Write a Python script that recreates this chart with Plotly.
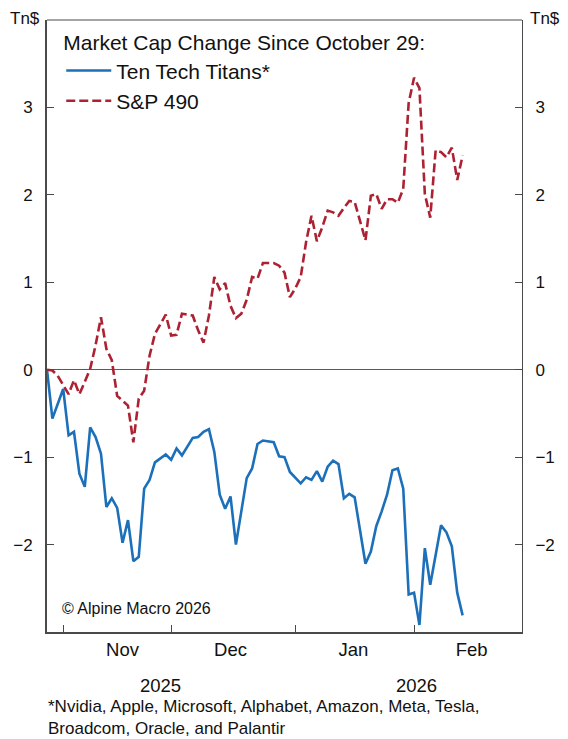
import pandas as pd
import plotly.graph_objects as go

# Weekday dates from Oct 29, 2025 (78 observations, through Feb 13, 2026)
start_date = "2025-10-29"
n_points = 78
dates = pd.bdate_range(start=start_date, periods=n_points)

tech_titans = [
    0.00, -0.56, -0.39, -0.22, -0.75, -0.71, -1.19, -1.34, -0.66, -0.77,
    -0.96, -1.57, -1.47, -1.58, -1.98, -1.72, -2.19, -2.14, -1.36, -1.26,
    -1.06, -1.02, -0.97, -1.03, -0.90, -0.98, -0.88, -0.78, -0.77, -0.71,
    -0.68, -0.94, -1.43, -1.59, -1.45, -2.00, -1.62, -1.24, -1.13, -0.85,
    -0.81, -0.82, -0.83, -0.99, -1.00, -1.17, -1.24, -1.30, -1.23, -1.26,
    -1.16, -1.28, -1.11, -1.04, -1.08, -1.47, -1.42, -1.46, -1.84, -2.22,
    -2.08, -1.79, -1.62, -1.43, -1.15, -1.13, -1.36, -2.57, -2.55, -2.92,
    -2.04, -2.46, -2.12, -1.78, -1.86, -2.02, -2.55, -2.81,
]

sp490 = [
    0.00, -0.01, -0.07, -0.17, -0.28, -0.12, -0.28, -0.14, 0.01, 0.28,
    0.60, 0.24, 0.11, -0.30, -0.36, -0.41, -0.83, -0.33, -0.24, 0.16,
    0.41, 0.52, 0.63, 0.39, 0.40, 0.64, 0.63, 0.62, 0.45, 0.31,
    0.62, 1.06, 0.92, 0.99, 0.73, 0.59, 0.64, 0.80, 1.06, 1.04,
    1.22, 1.22, 1.22, 1.19, 1.11, 0.83, 0.93, 1.06, 1.46, 1.76,
    1.47, 1.63, 1.82, 1.80, 1.76, 1.85, 1.93, 1.92, 1.70, 1.48,
    1.99, 2.01, 1.84, 1.95, 1.95, 1.91, 2.07, 3.05, 3.34, 3.22,
    2.01, 1.74, 2.51, 2.49, 2.43, 2.54, 2.17, 2.45,
]

y_ticks = [-2, -1, 0, 1, 2, 3]
y_range = [-3, 4]
x_range = ["2025-10-29", "2026-02-28"]
month_starts = ["2025-11-03", "2025-12-01", "2026-01-01", "2026-02-02"]
month_labels = ["Nov", "Dec", "Jan", "Feb"]
month_label_pos = ["2025-11-18", "2025-12-16", "2026-01-15 18:00", "2026-02-16 16:00"]
year_labels = ["2025", "2026"]
year_positions = ["2025-11-27", "2026-02-02 12:00"]

FONT = "Liberation Sans, Arial, sans-serif"
BLUE = "#1c70ba"
RED = "#ad2233"
AXIS = "#4a4a4a"

fig = go.Figure()
fig.add_trace(go.Scatter(
    x=dates, y=tech_titans, mode="lines", name="Ten Tech Titans*",
    line=dict(color=BLUE, width=2.6),
))
fig.add_trace(go.Scatter(
    x=dates, y=sp490, mode="lines", name="S&P 490", yaxis="y2",
    line=dict(color=RED, width=2.6, dash="9px,4px"),
))

fig.update_layout(
    width=568, height=739,
    margin=dict(l=47, r=46, t=20, b=107),
    paper_bgcolor="white", plot_bgcolor="white",
    font=dict(family=FONT, color="#111111"),
    showlegend=True,
    legend=dict(
        x=0.03, y=0.995, xanchor="left", yanchor="top",
        bgcolor="rgba(0,0,0,0)", borderwidth=0,
        font=dict(size=21, family=FONT, color="#111111"),
        title=dict(text="Market Cap Change Since October 29:",
                   font=dict(size=21, family=FONT, color="#111111")),
        itemwidth=45,
        tracegroupgap=0,
    ),
    xaxis=dict(
        type="date",
        range=x_range,
        rangebreaks=[dict(bounds=["sat", "mon"])],
        tickmode="array", tickvals=month_label_pos, ticktext=month_labels,
        ticks="",
        minor=dict(tickmode="array", tickvals=month_starts, ticks="inside",
                   ticklen=7, tickcolor=AXIS, tickwidth=1, showgrid=False),
        showline=True, linecolor=AXIS, linewidth=2,
        showgrid=False, zeroline=False,
        tickfont=dict(size=18.5, family=FONT, color="#111111"),
        ticklabelstandoff=0,
    ),
    yaxis=dict(
        range=y_range, tickvals=y_ticks,
        ticks="inside", ticklen=7, tickcolor=AXIS, tickwidth=1,
        showline=True, linecolor=AXIS, linewidth=2,
        showgrid=False,
        zeroline=True, zerolinecolor="#5a5a5a", zerolinewidth=1,
        tickfont=dict(size=17, family=FONT, color="#111111"),
        ticklabelstandoff=9,
    ),
    yaxis2=dict(
        range=y_range, tickvals=y_ticks, overlaying="y", side="right",
        matches="y",
        ticks="inside", ticklen=7, tickcolor=AXIS, tickwidth=1,
        showline=True, linecolor=AXIS, linewidth=1,
        showgrid=False, zeroline=False,
        tickfont=dict(size=17, family=FONT, color="#111111"),
        ticklabelstandoff=9,
    ),
)

# top border of the plot frame
fig.add_shape(type="line", xref="paper", yref="paper", x0=0, x1=1, y0=1, y1=1,
              line=dict(color=AXIS, width=1))

# axis unit labels
for xp in (-0.046, 1.048):
    fig.add_annotation(text="Tn$", xref="paper", yref="paper", x=xp, y=1.003,
                       xanchor="center", yanchor="middle", showarrow=False,
                       font=dict(size=17, family=FONT, color="#111111"))

# year labels under month ticks
for label, pos in zip(year_labels, year_positions):
    fig.add_annotation(text=label, x=pos, xref="x", y=-0.088, yref="paper",
                       xanchor="center", yanchor="middle", showarrow=False,
                       font=dict(size=18.5, family=FONT, color="#111111"))

fig.add_annotation(text="© Alpine Macro 2026", xref="paper", yref="paper",
                   x=0.027, y=0.039, xanchor="left", yanchor="middle",
                   showarrow=False,
                   font=dict(size=16, family=FONT, color="#111111"))

fig.add_annotation(
    text="*Nvidia, Apple, Microsoft, Alphabet, Amazon, Meta, Tesla,<br>Broadcom, Oracle, and Palantir",
    xref="paper", yref="paper", x=-0.002, y=-0.103, xanchor="left", yanchor="top",
    align="left", showarrow=False,
    font=dict(size=17, family=FONT, color="#111111"))

fig.write_html("out.html", config={"displayModeBar": False},
               post_script="document.body.style.margin='0';")
